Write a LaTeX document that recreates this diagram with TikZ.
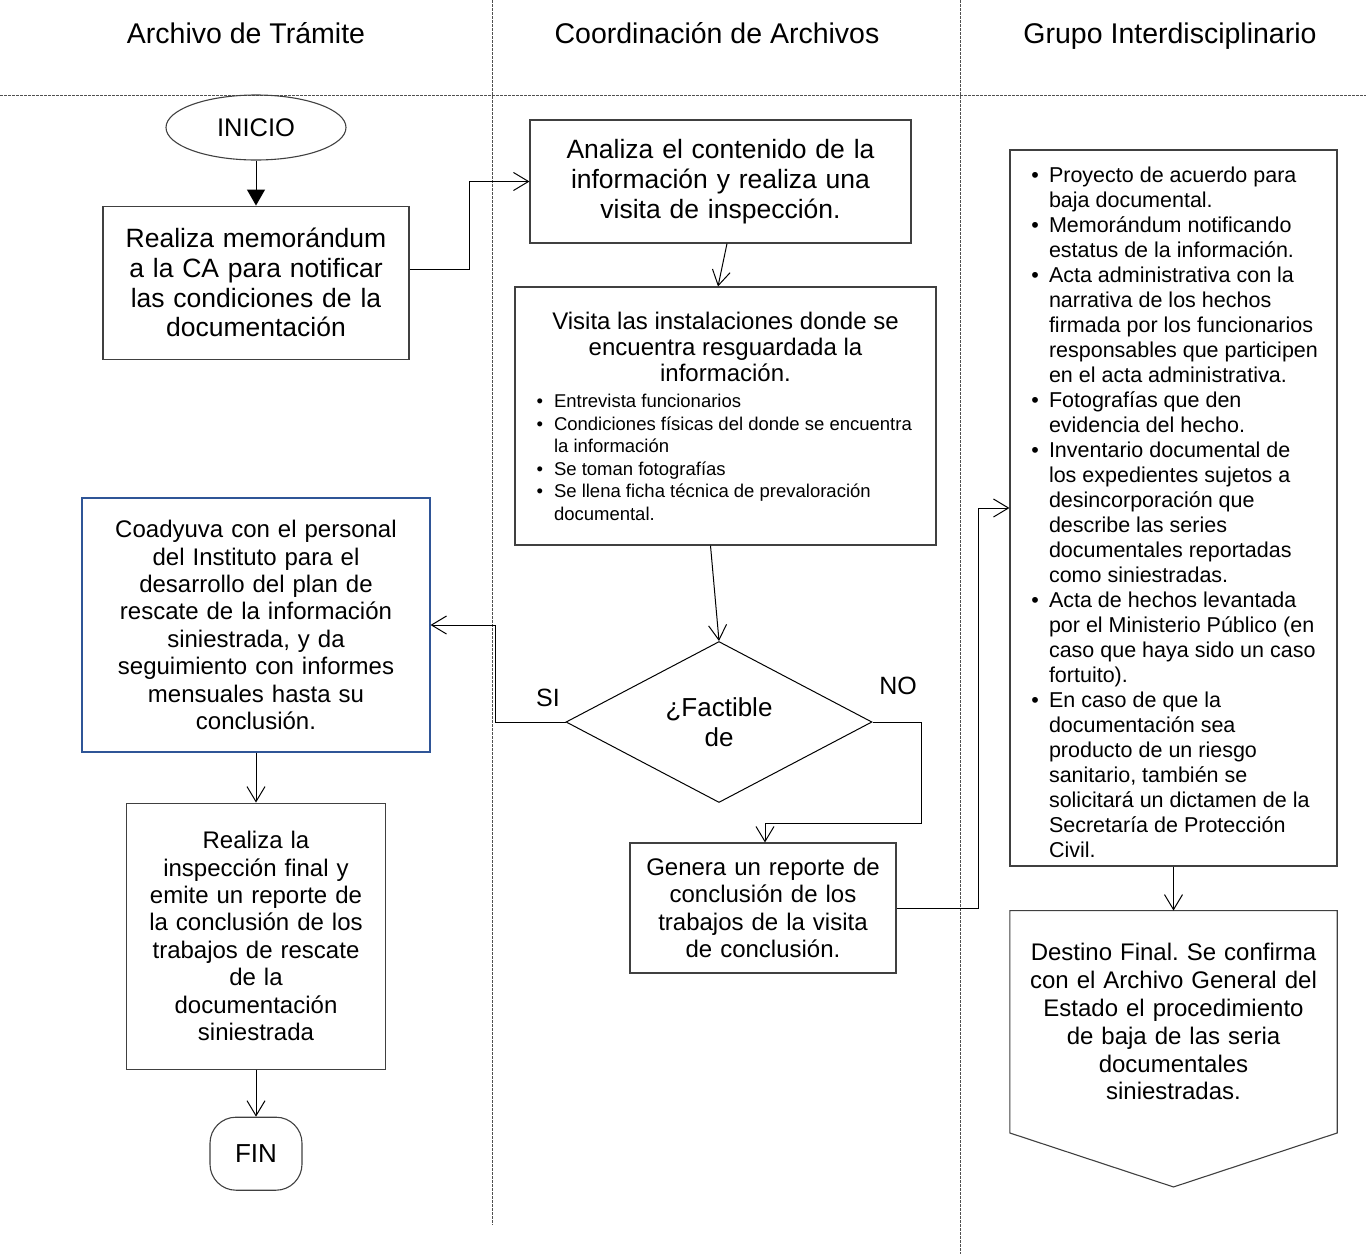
\documentclass[tikz,border=0pt]{standalone}
\usepackage{fontspec}
\setmainfont{Liberation Sans}
\usepackage{enumitem}
\usetikzlibrary{shapes.geometric, arrows.meta, positioning}
\definecolor{borde}{RGB}{64,64,64}
\definecolor{bordeazul}{RGB}{47,85,151}
\definecolor{guia}{RGB}{80,80,80}
\frenchspacing

\begin{document}
\begin{tikzpicture}[x=1pt, y=-1pt]
\tikzstyle{proceso} = [rectangle, draw=borde, line width=1.1pt, inner sep=0pt, align=center, font=\fontsize{24}{27.4}\selectfont]
\tikzstyle{lista} = [rectangle, draw=borde, line width=1.1pt, inner sep=0pt]
\tikzstyle{titulo} = [anchor=base, font=\fontsize{28.5}{30}\selectfont]
\tikzstyle{etiqueta} = [font=\fontsize{25}{27}\selectfont]
\tikzstyle{line} = [draw, line width=1pt, -{Straight Barb[length=15pt,width=18pt]}]
\tikzstyle{guia} = [draw=guia, line width=0.8pt, dash pattern=on 2.5pt off 1.5pt]

\useasboundingbox (0,0) rectangle (1366,1254);

% carriles
\draw [guia] (0,95) -- (1366,95);
\draw [guia] (492,0) -- (492,1225);
\draw [guia] (960,0) -- (960,1254);

\node [titulo] (carrilA) at (246,43) {Archivo de Trámite};
\node [titulo] (carrilB) at (717,43) {Coordinación de Archivos};
\node [titulo] (carrilC) at (1170,43) {Grupo Interdisciplinario};

% Archivo de Tramite
\node [ellipse, draw=borde, line width=1.1pt, inner sep=0pt, minimum width=180pt, minimum height=65pt, font=\fontsize{25.5}{27}\selectfont] (inicio) at (256,127.5) {INICIO};
\node [proceso, text width=306pt, minimum height=153pt, font=\fontsize{26.5}{29.7}\selectfont, below=45pt of inicio] (memo) {Realiza memorándum\\a la CA para notificar\\las condiciones de la\\documentación};

\node [proceso, draw=bordeazul, text width=348pt, minimum height=254pt] (coady) at (256,625) {Coadyuva con el personal\\del Instituto para el\\desarrollo del plan de\\rescate de la información\\siniestrada, y da\\seguimiento con informes\\mensuales hasta su\\conclusión.};
\node [proceso, text width=259pt, minimum height=266pt, below=50pt of coady] (realiza) {Realiza la\\inspección final y\\emite un reporte de\\la conclusión de los\\trabajos de rescate\\de la\\documentación\\siniestrada};
\node [proceso, rounded corners=26pt, text width=92pt, minimum height=73pt, font=\fontsize{26}{28}\selectfont, below=47pt of realiza] (fin) {FIN};

% Coordinacion de Archivos
\node [proceso, text width=381pt, minimum height=123pt, font=\fontsize{26.5}{30}\selectfont] (analiza) at (720.5,181.5) {Analiza el contenido de la\\información y realiza una\\visita de inspección.};
\node [lista, text width=421pt, minimum height=258pt, font=\fontsize{18.5}{22.5}\selectfont] (visita) at (725.5,416) {%
\spaceskip=0pt \xspaceskip=0pt
{\centering\fontsize{24}{26}\selectfont Visita las instalaciones donde se\\encuentra resguardada la\\información.\par}
\vspace{4pt}\raggedright
\begin{itemize}[leftmargin=39pt, labelsep=11pt, nosep, label=\textbullet]
\item Entrevista funcionarios
\item Condiciones físicas del donde se encuentra\\la información
\item Se toman fotografías
\item Se llena ficha técnica de prevaloración\\documental.
\end{itemize}};
\node [diamond, draw=black, line width=1pt, aspect=1.9, inner sep=0pt, minimum width=306pt, minimum height=161pt, align=center, font=\fontsize{26}{30}\selectfont] (factible) at (719,722) {¿Factible\\de};
\node [etiqueta] (si) at (548,698) {SI};
\node [etiqueta] (no) at (898,686) {NO};
\node [proceso, text width=266pt, minimum height=130pt] (genera) at (763,908) {Genera un reporte de\\conclusión de los\\trabajos de la visita\\de conclusión.};

% Grupo Interdisciplinario
\node [lista, text width=327pt, minimum height=716pt, font=\fontsize{21.5}{25}\selectfont] (requisitos) at (1173.5,508) {%
\spaceskip=0pt \xspaceskip=0pt \raggedright
\begin{itemize}[leftmargin=39pt, labelsep=10pt, nosep, label=\textbullet]
\item Proyecto de acuerdo para\\baja documental.
\item Memorándum notificando\\estatus de la información.
\item Acta administrativa con la\\narrativa de los hechos\\firmada por los funcionarios\\responsables que participen\\en el acta administrativa.
\item Fotografías que den\\evidencia del hecho.
\item Inventario documental de\\los expedientes sujetos a\\desincorporación que\\describe las series\\documentales reportadas\\como siniestradas.
\item Acta de hechos levantada\\por el Ministerio Público (en\\caso que haya sido un caso\\fortuito).
\item En caso de que la\\documentación sea\\producto de un riesgo\\sanitario, también se\\solicitará un dictamen de la\\Secretaría de Protección\\Civil.
\end{itemize}};
\node [rectangle, inner sep=0pt, text width=327pt, minimum height=222pt, align=center, font=\fontsize{24}{27.8}\selectfont, below=44pt of requisitos] (destino) {Destino Final. Se confirma\\con el Archivo General del\\Estado el procedimiento\\de baja de las seria\\documentales\\siniestradas.};
\draw [borde, line width=1.1pt] (destino.south west) -- (destino.north west) -- (destino.north east) -- (destino.south east) -- ([yshift=-54pt]destino.south) -- cycle;

% conectores
\draw [draw, line width=1pt, -{Triangle[length=16pt,width=18pt]}] (inicio) -- (memo);
\draw [line] ([yshift=13pt]memo.east) -- ++(60,0) |- (analiza.west);
\draw [line] ([xshift=6.5pt]analiza.south) -- ([xshift=-7.5pt]visita.north);
\draw [line] ([xshift=-15pt]visita.south) -- (factible.north);
\draw [line] (factible.west) -- ++(-70,0) |- (coady.east);
\draw [line] (factible.east) -- ++(49,0) -- ++(0,101) -| ([xshift=2pt]genera.north);
\draw [line] (genera.east) -- ++(82,0) |- (requisitos.west);
\draw [line] (coady.south -| realiza.north) -- (realiza.north);
\draw [line] (realiza) -- (fin);
\draw [line] (requisitos) -- (destino);

\end{tikzpicture}
\end{document}
